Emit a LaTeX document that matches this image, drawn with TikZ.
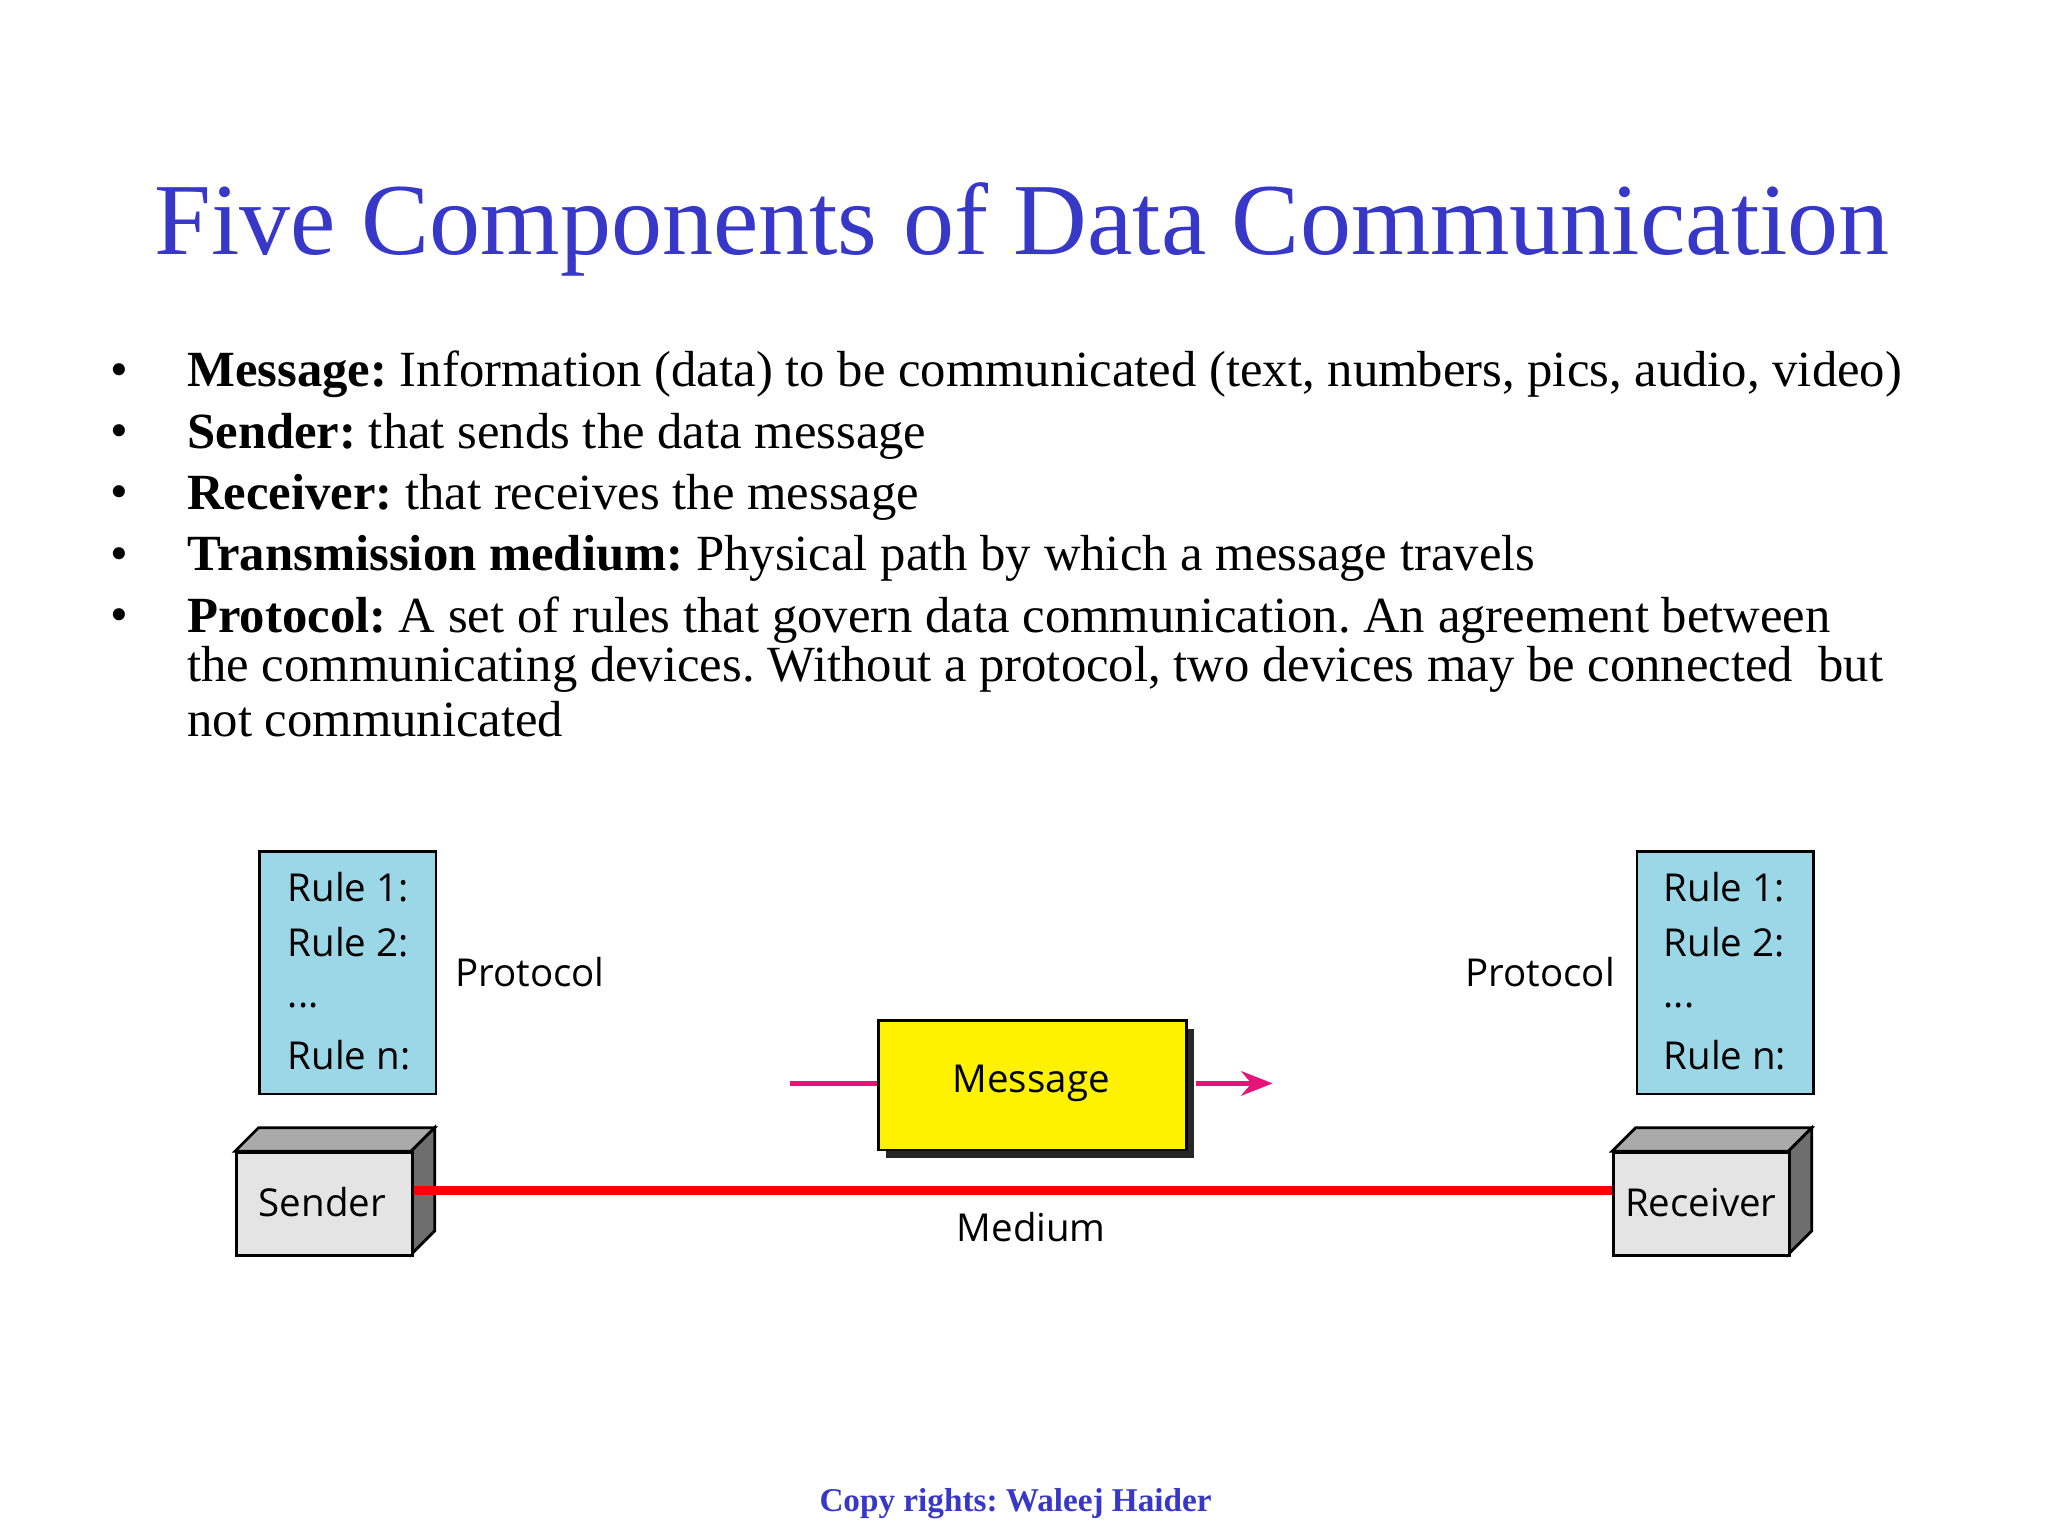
\documentclass[tikz,border=0pt]{standalone}
\usepackage{fontspec}
\setmainfont{Liberation Serif}
\newfontfamily\dsans{Open Sans}
\usetikzlibrary{arrows.meta}
\definecolor{ttl}{RGB}{55,55,200}
\definecolor{rule}{RGB}{155,215,230}
\definecolor{pinkc}{RGB}{230,20,120}
\definecolor{gtop}{RGB}{170,170,170}
\definecolor{gside}{RGB}{110,110,110}
\definecolor{gfront}{RGB}{228,228,228}
\frenchspacing
\tikzset{
 bl/.style={anchor=west,inner sep=0,font=\fontsize{14.5}{16}\selectfont},
 dl/.style={font=\dsans\fontsize{11}{13}\selectfont,inner sep=0},
 rulebox/.style={draw=black,line width=0.8pt,fill=rule,minimum width=135\px,minimum height=186\px,anchor=north west,inner sep=0},
 front/.style={draw=black,line width=0.8pt,fill=gfront},
 pink/.style={draw=pinkc,line width=1.4pt}
}
\newlength\px \setlength\px{0.013128cm}
\begin{document}
\begin{tikzpicture}[x=0.013128cm,y=-0.013128cm]
\useasboundingbox (0,0) rectangle (1569,1177);
\node[text=ttl,font=\fontsize{29.2}{32}\selectfont,inner sep=0] (title) at (783,176) {Five Components of Data Communication};
\foreach \y/\n in {287/1,334/2,381/3,428/4,475/5}{\node[bl] (b\n) at (84,\y) {\textbullet};}
\node[bl] (l1) at (143,287) {\textbf{Message:} Information (data) to be communicated (text, numbers, pics, audio, video)};
\node[bl] (l2) at (143,334) {\textbf{Sender:} that sends the data message};
\node[bl] (l3) at (143,381) {\textbf{Receiver:} that receives the message};
\node[bl] (l4) at (143,428) {\textbf{Transmission medium:} Physical path by which a message travels};
\node[bl] (l5) at (143,475) {\textbf{Protocol:} A set of rules that govern data communication. An agreement between};
\node[bl] (l6) at (143,513) {the communicating devices. Without a protocol, two devices may be connected\ \ but};
\node[bl] (l7) at (143,551) {not communicated};
% rule boxes
\node[rulebox] (r1) at (198,651) {};
\node[rulebox] (r2) at (1253,651) {};
\foreach \b/\x in {r1/220,r2/1274}{
 \node[dl,anchor=west] at (\x,680) {Rule 1:};
 \node[dl,anchor=west] at (\x,722) {Rule 2:};
 \node[dl,anchor=west] at (\x,770) {...};
 \node[dl,anchor=west] at (\x,808) {Rule n:};
}
\node[dl] (p1) at (406,745) {Protocol};
\node[dl] (p2) at (1180,745) {Protocol};
% sender
\fill[gtop,draw=black,line width=0.8pt] (180,882)--(198,864)--(333,864)--(315,882)--cycle;
\fill[gside,draw=black,line width=0.8pt] (315,882)--(333,864)--(333,943)--(315,961)--cycle;
\node[front,minimum width=135\px,minimum height=79\px,anchor=north west,inner sep=0] (sender) at (180,882) {};
\node[dl] at (247,921) {Sender};
% receiver
\fill[gtop,draw=black,line width=0.8pt] (1235,882)--(1253,864)--(1388,864)--(1370,882)--cycle;
\fill[gside,draw=black,line width=0.8pt] (1370,882)--(1388,864)--(1388,943)--(1370,961)--cycle;
\node[front,minimum width=135\px,minimum height=79\px,anchor=north west,inner sep=0] (receiver) at (1235,882) {};
\node[dl] at (1303,921) {Receiver};
% medium
\draw[red,line width=2.6pt] (sender.east|-0,912) -- (receiver.west|-0,912);
\node[dl] (medium) at (790,940) {Medium};
% message
\fill[black!85] (679,788) rectangle (915,887);
\node[draw=black,line width=0.8pt,fill=yellow,minimum width=236\px,minimum height=99\px,anchor=north west,inner sep=0] (msg) at (672,781) {};
\node[dl] at (790,830) {Message};
\coordinate (ms) at (605,830);
\coordinate (me) at (975,830);
\coordinate (mo) at (916,830);
\draw[pink] (ms) -- (ms-|msg.west);
\draw[pink,-{Stealth[length=9pt,width=7pt]}] (mo) -- (me);
\node[text=ttl,font=\bfseries\fontsize{9.5}{11}\selectfont,inner sep=0] (copy) at (778,1152) {Copy rights: Waleej Haider};
\end{tikzpicture}
\end{document}
